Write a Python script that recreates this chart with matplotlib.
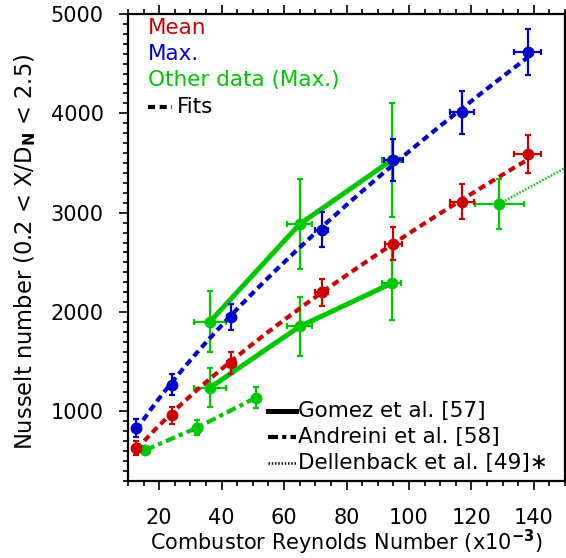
import numpy as np
import matplotlib
matplotlib.use("Agg")
import matplotlib.pyplot as plt
from matplotlib.ticker import MultipleLocator

# ---- data (Reynolds number in thousands, Nusselt number) ----
mean_re = [12.7, 24.0, 43.0, 72.0, 95.0, 117.0, 138.0]
mean_nu = [630, 960, 1490, 2200, 2690, 3110, 3590]
mean_re_err = [0.4, 0.8, 1.4, 2.2, 2.8, 3.8, 4.4]
mean_nu_err = [70, 83, 110, 138, 163, 175, 188]

max_re = [12.7, 24.0, 43.0, 72.0, 95.0, 117.0, 138.0]
max_nu = [830, 1270, 1950, 2830, 3530, 4010, 4620]
max_re_err = [0.4, 0.8, 1.4, 2.2, 3.1, 3.8, 4.4]
max_nu_err = [92, 105, 133, 178, 208, 217, 233]

gomez_hi_re = [36.3, 65.0, 94.5]
gomez_hi_nu = [1905, 2885, 3530]
gomez_hi_re_err = [5.0, 4.0, 3.0]
gomez_hi_nu_err = [310, 450, 570]

gomez_lo_re = [36.3, 65.0, 94.5]
gomez_lo_nu = [1240, 1855, 2290]
gomez_lo_re_err = [5.0, 4.0, 3.0]
gomez_lo_nu_err = [200, 300, 370]

andreini_re = [15.5, 32.0, 51.0]
andreini_nu = [610, 834, 1140]
andreini_nu_err = [40, 75, 108]

dell_re = [129.0]
dell_nu = [3090]
dell_re_err = [7.8]
dell_nu_err = [250]
dell_curve_re = [129.0, 150.0]
dell_curve_nu = [3090, 3450]

RED = "#CC0000"
BLUE = "#0000CC"
GREEN = "#00C800"

plt.rcParams["font.family"] = ["DejaVu Sans"]
plt.rcParams["font.size"] = 15

fig = plt.figure(figsize=(5.66, 5.58), dpi=100)
ax = fig.add_axes([128 / 566, 1 - 481 / 558, 437 / 566, 467 / 558])


def power_fit(x, y):
    x = np.asarray(x, float)
    y = np.asarray(y, float)
    b, lna = np.polyfit(np.log(x), np.log(y), 1)
    xs = np.linspace(x.min(), x.max(), 200)
    return xs, np.exp(lna) * xs ** b


eb_kw = dict(fmt="o", ms=7.5, elinewidth=1.6, capsize=2.5, capthick=1.6)

# other data (maximum values) from the literature
ax.plot(gomez_hi_re, gomez_hi_nu, color=GREEN, lw=3.6, solid_capstyle="butt", zorder=3)
ax.plot(gomez_lo_re, gomez_lo_nu, color=GREEN, lw=3.6, solid_capstyle="butt", zorder=3)
ax.plot(andreini_re, andreini_nu, color=GREEN, lw=3.0, dashes=(2.4, 1.0, 1.0, 1.0), zorder=3)
ax.plot(dell_curve_re, dell_curve_nu, color=GREEN, lw=1.8, dashes=(0.6, 0.7), zorder=3)

ax.errorbar(gomez_hi_re, gomez_hi_nu, xerr=gomez_hi_re_err, yerr=gomez_hi_nu_err,
            color=GREEN, zorder=4, **eb_kw)
ax.errorbar(gomez_lo_re, gomez_lo_nu, xerr=gomez_lo_re_err, yerr=gomez_lo_nu_err,
            color=GREEN, zorder=4, **eb_kw)
ax.errorbar(andreini_re, andreini_nu, yerr=andreini_nu_err, color=GREEN, zorder=4, **eb_kw)
ax.errorbar(dell_re, dell_nu, xerr=dell_re_err, yerr=dell_nu_err, color=GREEN, zorder=4, **eb_kw)

# power-law fits through the present measurements
fx, fy = power_fit(max_re, max_nu)
ax.plot(fx, fy, color=BLUE, lw=3.0, dashes=(1.7, 1.1), zorder=5)
fx, fy = power_fit(mean_re, mean_nu)
ax.plot(fx, fy, color=RED, lw=3.0, dashes=(1.7, 1.1), zorder=5)

ax.errorbar(max_re, max_nu, xerr=max_re_err, yerr=max_nu_err, color=BLUE, zorder=6, **eb_kw)
ax.errorbar(mean_re, mean_nu, xerr=mean_re_err, yerr=mean_nu_err, color=RED, zorder=6, **eb_kw)

# axes styling
ax.set_xlim(10, 150)
ax.set_ylim(300, 5000)
ax.xaxis.set_major_locator(MultipleLocator(20))
ax.xaxis.set_minor_locator(MultipleLocator(5))
ax.yaxis.set_major_locator(MultipleLocator(1000))
ax.yaxis.set_minor_locator(MultipleLocator(100))
ax.set_xticks([20, 40, 60, 80, 100, 120, 140])
ax.tick_params(which="both", direction="out", top=True, right=False, width=1.2)
ax.tick_params(which="major", length=6.5)
ax.tick_params(which="minor", length=3.5)
ax.tick_params(axis="x", which="major", pad=13)
ax.tick_params(axis="y", which="major", pad=11)
for s in ax.spines.values():
    s.set_linewidth(1.6)

ax.set_xlabel(r"Combustor Reynolds Number (x10$^{\mathbf{-3}}$)", fontsize=15, labelpad=0)
ax.set_ylabel(r"Nusselt number (0.2 < X/D$_{\mathbf{N}}$ < 2.5)", fontsize=16.3)
ax.yaxis.set_label_coords(-0.205, 0.49)

# key, upper left
tr = ax.transAxes
kfs = 15.5
x0 = (148 - 128) / 437
ax.text(x0, 0.970, "Mean", color=RED, transform=tr, va="center", ha="left", fontsize=kfs)
ax.text(x0, 0.914, "Max.", color=BLUE, transform=tr, va="center", ha="left", fontsize=kfs)
ax.text(x0, 0.859, "Other data (Max.)", color=GREEN, transform=tr, va="center", ha="left",
        fontsize=kfs)
ax.plot([x0, (172 - 128) / 437], [0.801, 0.801], color="black", lw=3.0,
        dashes=(1.7, 1.1), transform=tr)
ax.text((177 - 128) / 437, 0.801, "Fits", color="black", transform=tr, va="center", ha="left",
        fontsize=kfs)

# key, lower right
kx0, kx1, tx = (268 - 128) / 437, (296 - 128) / 437, (298 - 128) / 437
rows = [(0.150, "Gomez et al. [57]", dict(lw=3.6)),
        (0.094, "Andreini et al. [58]", dict(lw=3.0, dashes=(2.4, 1.0, 1.0, 1.0))),
        (0.0385, "Dellenback et al. [49]∗", dict(lw=1.8, dashes=(0.6, 0.7)))]
for yy, label, style in rows:
    ax.plot([kx0, kx1], [yy, yy], color="black", transform=tr, **style)
    ax.text(tx, yy, label, color="black", transform=tr, va="center", ha="left", fontsize=kfs)

fig.savefig("out.png", dpi=100)
